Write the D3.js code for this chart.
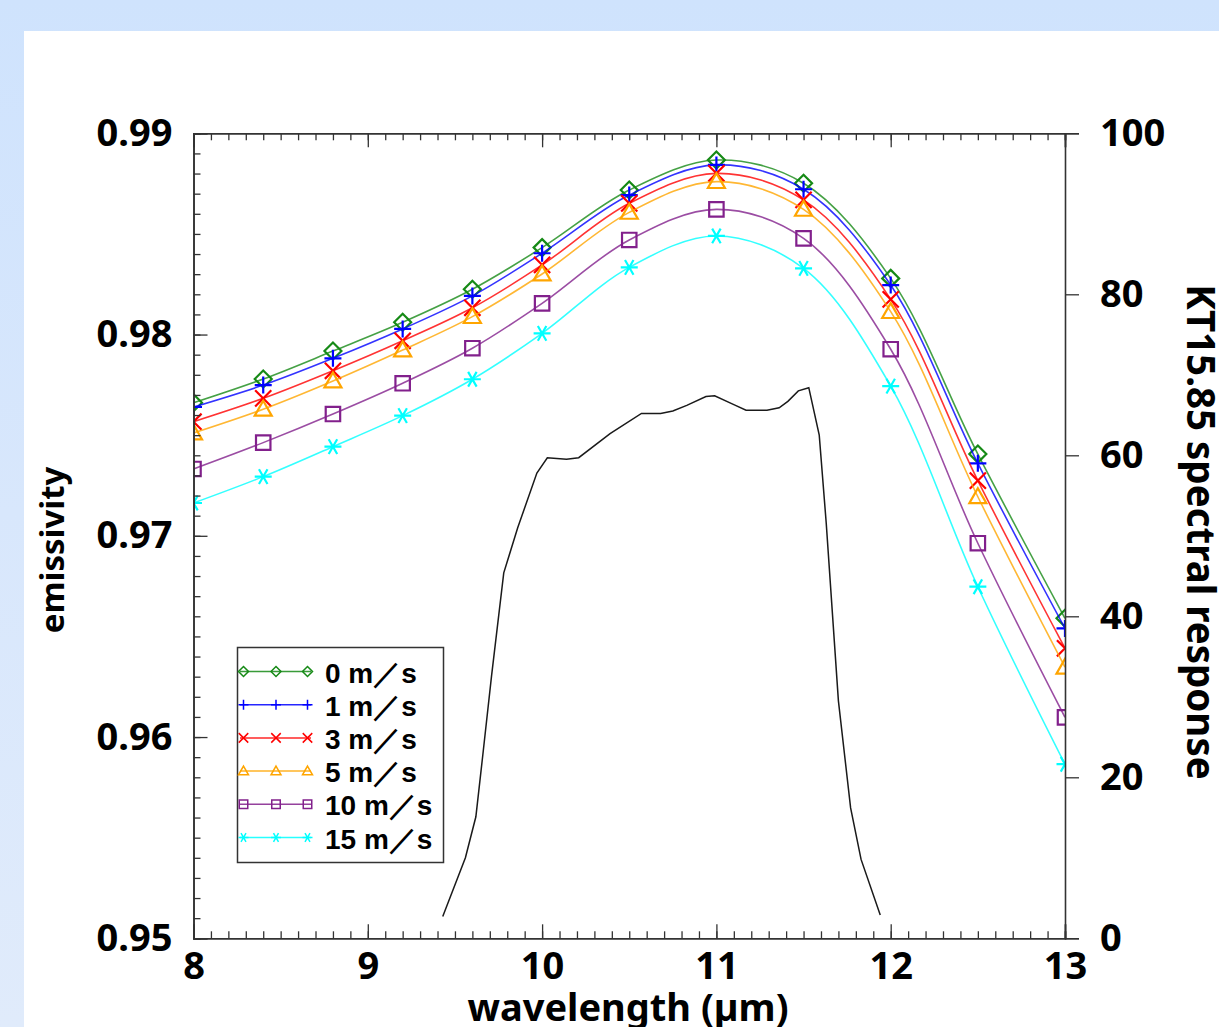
<!DOCTYPE html>
<html>
<head>
<meta charset="utf-8">
<script src="https://cdn.jsdelivr.net/npm/d3@7"></script>
<style>
  html, body { margin: 0; padding: 0; }
  body { width: 1219px; height: 1027px; overflow: hidden;
         background: linear-gradient(180deg, #cfe3fd 0%, #d8e7fc 50%, #e0ebfb 100%); }
  svg { display: block; }
</style>
</head>
<body>
<svg id="chart" width="1219" height="1027"></svg>
<script>
// Sea-surface emissivity versus wavelength for several wind speeds,
// with the KT15.85 radiometer spectral response on the right axis.
const wavelengths = [8, 8.4, 8.8, 9.2, 9.6, 10, 10.5, 11, 11.5, 12, 12.5, 13];

const emisWind0  = [0.97661, 0.97779, 0.97918, 0.98061, 0.98225, 0.98432, 0.98718, 0.98867, 0.98752, 0.98279, 0.97406, 0.96590];
const emisWind1  = [0.97640, 0.97749, 0.97882, 0.98028, 0.98192, 0.98404, 0.98693, 0.98843, 0.98722, 0.98246, 0.97360, 0.96540];
const emisWind3  = [0.97567, 0.97683, 0.97820, 0.97969, 0.98133, 0.98346, 0.98652, 0.98801, 0.98669, 0.98175, 0.97274, 0.96441];
const emisWind5  = [0.97511, 0.97629, 0.97769, 0.97923, 0.98089, 0.98301, 0.98607, 0.98760, 0.98622, 0.98114, 0.97194, 0.96347];
const emisWind10 = [0.97332, 0.97463, 0.97605, 0.97758, 0.97932, 0.98155, 0.98470, 0.98622, 0.98478, 0.97927, 0.96963, 0.96098];
const emisWind15 = [0.97163, 0.97294, 0.97443, 0.97597, 0.97778, 0.98006, 0.98334, 0.98490, 0.98329, 0.97744, 0.96747, 0.95865];

const seriesLabels = ["0 m\uFF0Fs", "1 m\uFF0Fs", "3 m\uFF0Fs", "5 m\uFF0Fs", "10 m\uFF0Fs", "15 m\uFF0Fs"];

const srfWavelength = [9.43, 9.56, 9.62, 9.66, 9.71, 9.78, 9.86, 9.97, 10.03, 10.14, 10.21, 10.39, 10.57, 10.68,
                       10.75, 10.83, 10.94, 10.99, 11.10, 11.17, 11.29, 11.36, 11.41, 11.47, 11.53, 11.59, 11.63,
                       11.70, 11.77, 11.83, 11.94];
const srfResponse   = [2.7, 10.0, 15.1, 22.8, 32.6, 45.4, 51.0, 57.8, 59.7, 59.5, 59.7, 62.7, 65.2, 65.2,
                       65.5, 66.2, 67.3, 67.4, 66.3, 65.6, 65.6, 65.9, 66.7, 68.0, 68.4, 62.5, 51.6,
                       29.5, 16.2, 9.8, 2.9];

const xTicks = [8, 9, 10, 11, 12, 13];
const yTicks = [0.95, 0.96, 0.97, 0.98, 0.99];
const yRightTicks = [0, 20, 40, 60, 80, 100];

const series = [
  { label: seriesLabels[0], values: emisWind0,  color: "#168a16", marker: "diamond" },
  { label: seriesLabels[1], values: emisWind1,  color: "#0000ff", marker: "plus" },
  { label: seriesLabels[2], values: emisWind3,  color: "#ff0000", marker: "cross" },
  { label: seriesLabels[3], values: emisWind5,  color: "#ffa500", marker: "triangle" },
  { label: seriesLabels[4], values: emisWind10, color: "#82208c", marker: "square" },
  { label: seriesLabels[5], values: emisWind15, color: "#00ffff", marker: "asterisk" }
];

const svg = d3.select("#chart");

// white page panel
svg.append("rect").attr("x", 24).attr("y", 31).attr("width", 1219 - 24).attr("height", 1027 - 31).attr("fill", "#ffffff");

const plotL = 193.5, plotR = 1065, plotT = 133.3, plotB = 938.3;
const x = d3.scaleLinear().domain([8, 13]).range([plotL, plotR]);
const y = d3.scaleLinear().domain([0.95, 0.99]).range([plotB, plotT]);
const yR = d3.scaleLinear().domain([0, 100]).range([plotB, plotT]);

const axisFont = "'Noto Sans', 'Open Sans', sans-serif";
const labelSize = 38;

svg.append("defs").append("clipPath").attr("id", "plotClip")
  .append("rect").attr("x", plotL).attr("y", plotT).attr("width", plotR - plotL).attr("height", plotB - plotT);

// spectral response curve
svg.append("path")
  .datum(srfWavelength.map((w, i) => [w, srfResponse[i]]))
  .attr("fill", "none").attr("stroke", "#1a1a1a").attr("stroke-width", 1.5)
  .attr("d", d3.line().x(d => x(d[0])).y(d => yR(d[1])));

// marker path generators, centred on 0,0
function markerPath(type, s) {
  const h = s / 2;
  switch (type) {
    case "diamond":  return `M0,${-h}L${h},0L0,${h}L${-h},0Z`;
    case "plus":     return `M${-h},0H${h}M0,${-h}V${h}`;
    case "cross":    { const c = h * 0.95; return `M${-c},${-c}L${c},${c}M${-c},${c}L${c},${-c}`; }
    case "triangle": return `M0,${-h}L${h},${h * 0.75}L${-h},${h * 0.75}Z`;
    case "square":   { const q = h * 0.85; return `M${-q},${-q}H${q}V${q}H${-q}Z`; }
    case "asterisk": {
      const a = h, c = Math.cos(Math.PI / 3) * h, sn = Math.sin(Math.PI / 3) * h;
      return `M${-a},0H${a}M${-c},${-sn}L${c},${sn}M${-c},${sn}L${c},${-sn}`;
    }
  }
}

const plot = svg.append("g").attr("clip-path", "url(#plotClip)");
const line = d3.line().x(d => x(d[0])).y(d => y(d[1])).curve(d3.curveCatmullRom.alpha(0.5));

series.forEach(s => {
  const pts = wavelengths.map((w, i) => [w, s.values[i]]);
  plot.append("path").datum(pts)
    .attr("fill", "none").attr("stroke", s.color).attr("stroke-width", 1.6).attr("stroke-opacity", 0.8)
    .attr("d", line);
  plot.selectAll(null).data(pts).join("path")
    .attr("transform", d => `translate(${x(d[0])},${y(d[1])})`)
    .attr("d", markerPath(s.marker, 17))
    .attr("fill", "none").attr("stroke", s.color).attr("stroke-width", 2.2);
});

// axes: major and minor ticks drawn inward on bottom, top and left
function styleAxis(g) {
  g.select(".domain").attr("stroke", "#333").attr("stroke-width", 1.6);
  g.selectAll(".tick line").attr("stroke", "#333").attr("stroke-width", 1.3);
  g.selectAll("text").attr("font-family", axisFont).attr("font-weight", "bold")
    .attr("font-size", labelSize).attr("fill", "#000");
}

const xMinor = d3.range(80, 131).map(v => v / 10);
const yMinor = d3.range(950, 991).map(v => v / 1000);

svg.append("g").attr("transform", `translate(0,${plotB})`)
  .call(d3.axisBottom(x).tickValues(xMinor).tickSize(-7).tickFormat("")).call(styleAxis);
svg.append("g").attr("transform", `translate(0,${plotB})`)
  .call(d3.axisBottom(x).tickValues(xTicks).tickSize(-14).tickPadding(14).tickFormat(d3.format("d"))).call(styleAxis);

svg.append("g").attr("transform", `translate(0,${plotT})`)
  .call(d3.axisTop(x).tickValues(xMinor).tickSize(-7).tickFormat("")).call(styleAxis);
svg.append("g").attr("transform", `translate(0,${plotT})`)
  .call(d3.axisTop(x).tickValues(xTicks).tickSize(-14).tickFormat("")).call(styleAxis);

svg.append("g").attr("transform", `translate(${plotL},0)`)
  .call(d3.axisLeft(y).tickValues(yMinor).tickSize(-7).tickFormat("")).call(styleAxis);
svg.append("g").attr("transform", `translate(${plotL},0)`)
  .call(d3.axisLeft(y).tickValues(yTicks).tickSize(-14).tickPadding(21).tickFormat(d3.format(".2f"))).call(styleAxis);

svg.append("g").attr("transform", `translate(${plotR},0)`)
  .call(d3.axisRight(yR).tickValues(yRightTicks).tickSize(14).tickPadding(21).tickFormat(d3.format("d"))).call(styleAxis);

// axis titles
svg.append("text").attr("x", 628).attr("y", 1021).attr("text-anchor", "middle")
  .attr("font-family", axisFont).attr("font-weight", "bold").attr("font-size", labelSize)
  .text("wavelength (\u00B5m)");
svg.append("text").attr("transform", "translate(64,550) rotate(-90)").attr("text-anchor", "middle")
  .attr("font-family", axisFont).attr("font-weight", "bold").attr("font-size", 33)
  .text("emissivity");
svg.append("text").attr("transform", "translate(1187,532) rotate(90)").attr("text-anchor", "middle")
  .attr("font-family", axisFont).attr("font-weight", "bold").attr("font-size", 38.5)
  .text("KT15.85 spectral response");

// legend
const legend = svg.append("g");
legend.append("rect").attr("x", 237.5).attr("y", 647.5).attr("width", 206).attr("height", 215)
  .attr("fill", "#fff").attr("stroke", "#333").attr("stroke-width", 1.5);
const rowY = d3.scaleLinear().domain([0, 5]).range([671.5, 837.5]);
series.forEach((s, i) => {
  const ry = rowY(i);
  const g = legend.append("g");
  g.append("line").attr("x1", 240).attr("x2", 311).attr("y1", ry).attr("y2", ry)
    .attr("stroke", s.color).attr("stroke-width", 1.5).attr("stroke-opacity", 0.85);
  [243.5, 276, 307.5].forEach(mx => {
    g.append("path").attr("transform", `translate(${mx},${ry})`).attr("d", markerPath(s.marker, 10))
      .attr("fill", "none").attr("stroke", s.color).attr("stroke-width", 1.5);
  });
  g.append("text").attr("x", 325).attr("y", ry + 11)
    .attr("font-family", "'Liberation Sans', Arial, sans-serif").attr("font-weight", "bold").attr("font-size", 28)
    .text(s.label);
});
</script>
</body>
</html>
